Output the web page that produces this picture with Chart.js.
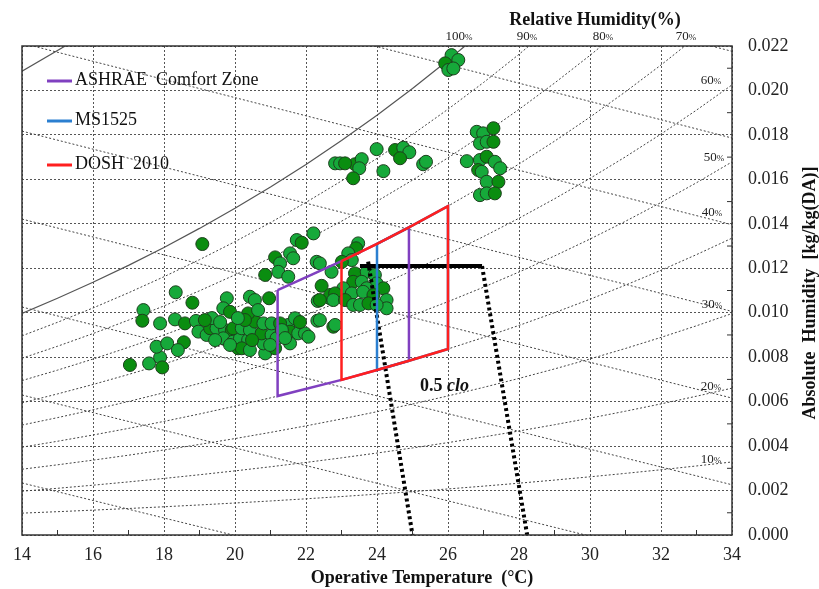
<!DOCTYPE html>
<html>
<head>
<meta charset="utf-8">
<script src="https://cdn.jsdelivr.net/npm/chart.js@4.4.0/dist/chart.umd.min.js"></script>
<style>
  html, body { margin: 0; padding: 0; background: #fff; }
  #wrap { width: 819px; height: 589px; }
</style>
</head>
<body>
<div id="wrap"><canvas id="psyChart" width="819" height="589"></canvas></div>
<script>
// measured conditions: operative temperature (°C) / absolute humidity (kg/kg(DA))
const measTemp = [
  17.04, 17.58, 17.89, 17.95, 17.79, 18.09, 18.56, 18.39, 17.42, 17.39,
  17.89, 18.31, 18.59, 18.90, 18.33, 18.80, 19.77, 19.67, 19.86, 18.97,
  19.20, 19.30, 19.48, 19.72, 19.91, 19.67, 19.95, 20.09, 20.14, 20.37,
  20.19, 20.42, 20.85, 21.13, 21.55, 20.80, 19.95, 20.19, 20.42, 20.75,
  21.03, 21.17, 20.56, 20.80, 21.03, 20.37, 20.42, 20.56, 20.96, 21.50,
  21.69, 21.55, 21.78, 21.97, 21.27, 22.07, 22.33, 22.44, 22.68, 22.32,
  22.77, 22.39, 22.82, 19.08, 22.21, 21.74, 21.88, 21.55, 21.64, 21.13,
  21.27, 21.22, 20.85, 21.50, 22.30, 22.68,
  19.35, 19.58, 20.28, 20.65, 21.32, 21.83, 19.44, 19.86, 20.48, 20.99,
  21.41, 19.15, 20.08,
  23.47, 23.41, 23.19, 23.29, 23.01, 22.72, 22.39, 23.38, 23.71, 23.94,
  23.33, 23.57, 23.99, 24.18, 23.71, 23.05, 22.82, 23.29, 23.61, 23.90,
  24.27, 22.77, 23.10, 23.33, 23.52, 23.76, 24.27, 23.99, 22.39,
  22.82, 22.96, 23.38, 23.57, 23.50, 23.33, 23.99, 24.18, 24.51, 24.74,
  24.91, 24.65, 25.30, 25.38, 23.10,
  26.81, 26.99, 27.28, 26.90, 27.09, 27.28, 26.53, 26.90, 27.09, 27.32,
  27.47, 26.85, 26.95, 27.09, 27.42, 26.90, 27.09, 27.32,
  26.10, 26.29, 25.92, 26.01, 26.15
];
const measHum = [
  0.00765, 0.00772, 0.00799, 0.00754, 0.00847, 0.00862, 0.00867, 0.00832, 0.01012, 0.00964,
  0.00952, 0.00970, 0.00952, 0.00963, 0.01092, 0.01045, 0.01065, 0.01020, 0.01004, 0.00915,
  0.00900, 0.00930, 0.00930, 0.00922, 0.00922, 0.00885, 0.00870, 0.00840, 0.00885, 0.00877,
  0.00840, 0.00832, 0.00817, 0.00840, 0.00862, 0.00862, 0.00930, 0.00930, 0.00922, 0.00907,
  0.00900, 0.00885, 0.00960, 0.00952, 0.00952, 0.00997, 0.01072, 0.01057, 0.01065, 0.00945,
  0.00975, 0.00915, 0.00907, 0.00907, 0.00952, 0.00892, 0.01053, 0.01121, 0.01065, 0.00964,
  0.00937, 0.00967, 0.00945, 0.01309, 0.01357, 0.01327, 0.01315, 0.01267, 0.01245, 0.01249,
  0.01222, 0.01184, 0.01170, 0.01162, 0.01229, 0.01080,
  0.00976, 0.00958, 0.00967, 0.01012, 0.00922, 0.00958, 0.00877, 0.00855, 0.00877, 0.00855,
  0.00886, 0.00967, 0.00976,
  0.01312, 0.01290, 0.01267, 0.01237, 0.01229, 0.01184, 0.01222, 0.01177, 0.01184, 0.01170,
  0.01139, 0.01139, 0.01132, 0.01110, 0.01110, 0.01110, 0.01087, 0.01087, 0.01094, 0.01080,
  0.01057, 0.01057, 0.01057, 0.01035, 0.01035, 0.01042, 0.01020, 0.01035, 0.01057,
  0.01672, 0.01672, 0.01668, 0.01691, 0.01650, 0.01605, 0.01736, 0.01637, 0.01732, 0.01742,
  0.01722, 0.01695, 0.01668, 0.01679, 0.01672,
  0.01814, 0.01807, 0.01830, 0.01762, 0.01769, 0.01769, 0.01682, 0.01687, 0.01702, 0.01679,
  0.01650, 0.01642, 0.01634, 0.01589, 0.01589, 0.01529, 0.01537, 0.01537,
  0.02159, 0.02137, 0.02122, 0.02092, 0.02099
];

// saturation vapour pressure table (kPa) for the relative humidity curves
const satTemps = [14, 15, 16, 17, 18, 19, 20, 21, 22, 23, 24, 25, 26, 27, 28, 29, 30, 31, 32, 33, 34];
const satPress = [1.5990, 1.7058, 1.8188, 1.9384, 2.0647, 2.1983, 2.3392, 2.4881, 2.6452, 2.8109,
                  2.9856, 3.1697, 3.3637, 3.5679, 3.7828, 4.0089, 4.2467, 4.4966, 4.7592, 5.0351, 5.3247];
const rhLevels = [10, 20, 30, 40, 50, 60, 70, 80, 90, 100];

// constant enthalpy lines (kJ/kg): humidity where each meets 14 °C and 34 °C
const enthalpyLevels = [20, 30, 40, 50, 60, 70, 80, 90];
const enthalpyHumAt14 = [0.002341, 0.006298, 0.010256, 0.014213, 0.018170, 0.022127, 0.026084, 0.030041];
const enthalpyHumAt34 = [-0.005539, -0.001639, 0.002260, 0.006160, 0.010060, 0.013960, 0.017860, 0.021760];

// extra solid curve entering at the upper-left corner
const upperCurveTemp = [14, 15.4];
const upperCurveHum = [0.02087, 0.02217];

// comfort zones
const ashraeTemp = [21.2, 23, 24, 24.9, 24.9, 24, 23, 21.2, 21.2];
const ashraeHum = [0.01102, 0.01232, 0.01310, 0.01384, 0.00784, 0.00742, 0.00698, 0.00625, 0.01102];
const ms1525Temp = [24, 24.9, 26, 26, 24.9, 24, 24];
const ms1525Hum = [0.01310, 0.01384, 0.01480, 0.00837, 0.00784, 0.00742, 0.01310];
const doshTemp = [23, 24, 24.9, 26, 26, 24.9, 24, 23, 23];
const doshHum = [0.01232, 0.01310, 0.01384, 0.01480, 0.00837, 0.00784, 0.00742, 0.00698, 0.01232];

// 0.5 clo boundary
const cloBarTemp = [23.52, 26.96];
const cloBarHum = [0.0121, 0.0121];
const cloLeftTemp = [23.75, 25.0];
const cloLeftHum = [0.0123, 0.0];
const cloRightTemp = [26.96, 28.23];
const cloRightHum = [0.0121, 0.0];

const pairUp = (xs, ys) => xs.map((v, i) => ({ x: v, y: ys[i] }));

const datasets = [];

function lineSet(xs, ys, color, width, dash, order) {
  return {
    data: pairUp(xs, ys), showLine: true, borderColor: color, borderWidth: width,
    borderDash: dash, pointRadius: 0, tension: 0, fill: false, order: order
  };
}

datasets.push(lineSet(doshTemp, doshHum, '#ff1f1f', 2.5, [], 0));
datasets.push(lineSet(ms1525Temp, ms1525Hum, '#2b7fd0', 2.5, [], 1));
datasets.push(lineSet(ashraeTemp, ashraeHum, '#8040c0', 2.5, [], 2));
datasets.push(lineSet(cloBarTemp, cloBarHum, '#000', 4, [], 3));
datasets.push(lineSet(cloLeftTemp, cloLeftHum, '#000', 4, [3, 3], 3));
datasets.push(lineSet(cloRightTemp, cloRightHum, '#000', 4, [3, 3], 3));

datasets.push({
  data: pairUp(measTemp, measHum),
  pointRadius: 6.5,
  pointBackgroundColor: measTemp.map((_, i) => (i % 3 === 0 ? '#0a8d10' : '#16a93a')),
  pointBorderColor: '#1d3f1d',
  pointBorderWidth: 1,
  showLine: false,
  order: 4
});

rhLevels.forEach(rh => {
  const hum = satPress.map(p => {
    const pv = p * rh / 100;
    return 0.622 * pv / (101.325 - pv);
  });
  const solid = rh === 100;
  datasets.push(lineSet(satTemps, hum, solid ? '#555' : '#444', solid ? 1.2 : 1, solid ? [] : [2, 2], 6));
});

enthalpyLevels.forEach((h, i) => {
  datasets.push(lineSet([14, 34], [enthalpyHumAt14[i], enthalpyHumAt34[i]], '#444', 1, [2, 2], 6));
});

datasets.push(lineSet(upperCurveTemp, upperCurveHum, '#555', 1.2, [], 6));

const serif = '"Liberation Serif", "Times New Roman", serif';

const decor = {
  id: 'decor',
  afterDraw(chart) {
    const { ctx, chartArea: a, scales: { x, y } } = chart;
    ctx.save();
    ctx.setLineDash([]);
    ctx.strokeStyle = '#333';
    ctx.lineWidth = 1.5;
    ctx.strokeRect(a.left, a.top, a.right - a.left, a.bottom - a.top);

    // minor ticks
    ctx.lineWidth = 1;
    ctx.beginPath();
    for (let t = 15; t < 34; t += 2) {
      const px = x.getPixelForValue(t);
      ctx.moveTo(px, a.bottom); ctx.lineTo(px, a.bottom - 5);
    }
    for (let k = 1; k < 22; k += 2) {
      const py = y.getPixelForValue(k / 1000);
      ctx.moveTo(a.right, py); ctx.lineTo(a.right - 5, py);
    }
    ctx.stroke();

    // RH labels
    const rhLabels = [
      ['100', 459, 40], ['90', 527, 40], ['80', 603, 40], ['70', 686, 40],
      ['60', 711, 84], ['50', 714, 161], ['40', 712, 216],
      ['30', 712, 308], ['20', 711, 390], ['10', 711, 463]
    ];
    ctx.fillStyle = '#222';
    ctx.textBaseline = 'alphabetic';
    rhLabels.forEach(([t, cx, by]) => {
      ctx.font = '13px ' + serif;
      const w1 = ctx.measureText(t).width;
      ctx.font = '9px ' + serif;
      const w2 = ctx.measureText('%').width;
      const left = cx - (w1 + w2) / 2;
      ctx.font = '13px ' + serif;
      ctx.textAlign = 'left';
      ctx.fillText(t, left, by);
      ctx.font = '9px ' + serif;
      ctx.fillText('%', left + w1, by);
    });

    // legend
    const legend = [['ASHRAE  Comfort Zone', '#8040c0', 81], ['MS1525', '#2b7fd0', 121], ['DOSH  2010', '#ff1f1f', 165]];
    legend.forEach(([label, col, ly]) => {
      ctx.strokeStyle = col;
      ctx.lineWidth = 3;
      ctx.beginPath(); ctx.moveTo(47, ly); ctx.lineTo(72, ly); ctx.stroke();
      ctx.fillStyle = '#111';
      ctx.font = '18px ' + serif;
      ctx.textAlign = 'left';
      ctx.fillText(label, 75, ly + 4);
    });

    // 0.5 clo
    ctx.fillStyle = '#111';
    ctx.font = 'bold 18px ' + serif;
    ctx.fillText('0.5 ', 420, 391);
    const wn = ctx.measureText('0.5 ').width;
    ctx.font = 'italic bold 18px ' + serif;
    ctx.fillText('clo', 420 + wn, 391);

    // titles
    ctx.fillStyle = '#111';
    ctx.font = 'bold 18px ' + serif;
    ctx.textAlign = 'center';
    ctx.textBaseline = 'middle';
    ctx.fillText('Relative Humidity(%)', 595, 20);
    ctx.fillText('Operative Temperature  (°C)', 422, 578);
    ctx.translate(810, 293);
    ctx.rotate(-Math.PI / 2);
    ctx.fillText('Absolute  Humidity  [kg/kg(DA)]', 0, 0);
    ctx.restore();
  }
};

const tickFont = { family: serif, size: 18 };

new Chart(document.getElementById('psyChart'), {
  type: 'scatter',
  data: { datasets: datasets },
  options: {
    responsive: false,
    animation: false,
    layout: { padding: { left: 22, top: 46, right: 0, bottom: 0 } },
    plugins: { legend: { display: false }, tooltip: { enabled: false } },
    scales: {
      x: {
        type: 'linear', position: 'bottom', min: 14, max: 34,
        ticks: { stepSize: 2, font: tickFont, color: '#222', padding: 9, maxRotation: 0 },
        grid: { color: '#555', lineWidth: 1, drawTicks: false },
        border: { display: false, dash: [2, 2] },
        afterFit: s => { s.height = 54; }
      },
      y: {
        type: 'linear', position: 'right', min: 0, max: 0.022,
        ticks: { stepSize: 0.002, font: tickFont, color: '#222', padding: 16, callback: v => v.toFixed(3) },
        grid: { color: '#555', lineWidth: 1, drawTicks: false },
        border: { display: false, dash: [2, 2] },
        afterFit: s => { s.width = 87; }
      }
    }
  },
  plugins: [decor]
});
</script>
</body>
</html>
